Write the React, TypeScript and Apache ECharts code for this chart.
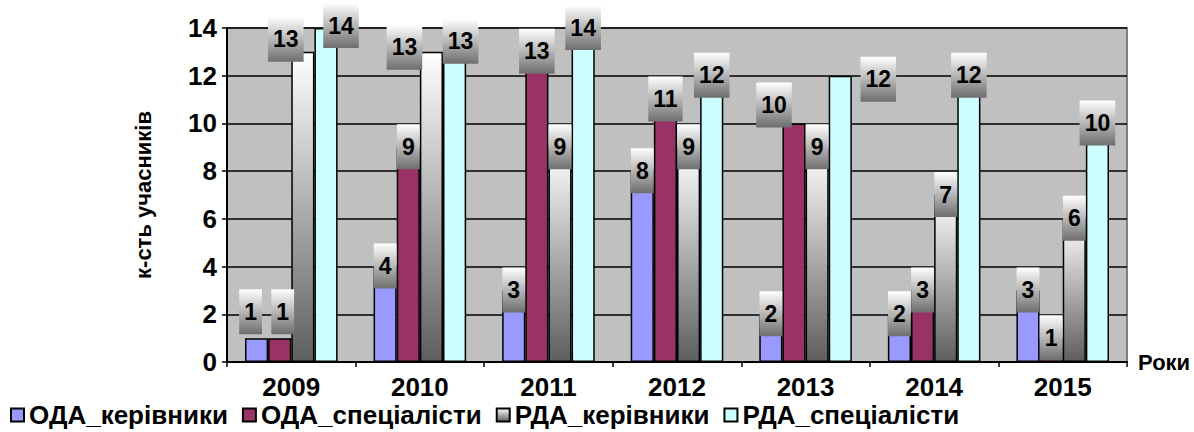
import React, { useEffect, useRef } from "react";
import * as echarts from "echarts";

const years = ["2009", "2010", "2011", "2012", "2013", "2014", "2015"];
const odaHeads = [1, 4, 3, 8, 2, 2, 3];
const odaSpecs = [1, 9, 13, 11, 10, 3, 1];
const rdaHeads = [13, 13, 9, 9, 9, 7, 6];
const rdaSpecs = [14, 13, 14, 12, 12, 12, 10];
const seriesNames = ["ОДА_керівники", "ОДА_спеціалісти", "РДА_керівники", "РДА_спеціалісти"];
const yMin = 0;
const yMax = 14;
const yStep = 2;

// label nudges (dx, dy) keyed "series-category", copying the hand-placed labels
const labelNudges: Record<string, [number, number]> = {
  "0-0": [-6, -26],
  "1-0": [3, -26],
  "2-0": [-17, -12],
  "3-0": [15, -2],
  "2-1": [-27, -4],
  "3-1": [6, -10],
  "1-4": [-20, -18],
  "3-4": [38, 4],
};

const FONT = "'Liberation Sans', Arial, sans-serif";

export default function App() {
  const ref = useRef<HTMLDivElement>(null);

  useEffect(() => {
    if (!ref.current) return;
    const chart = echarts.init(ref.current, undefined, { renderer: "svg" });

    const grad = (c0: string, c1: string) =>
      new echarts.graphic.LinearGradient(0, 0, 0, 1, [
        { offset: 0, color: c0 },
        { offset: 1, color: c1 },
      ]);

    const colors: any[] = ["#9999FF", "#993366", grad("#ffffff", "#5e5e5e"), "#CCFFFF"];
    const values = [odaHeads, odaSpecs, rdaHeads, rdaSpecs];

    const series = values.map((vals, s) => ({
      name: seriesNames[s],
      type: "bar",
      barGap: "0%",
      barCategoryGap: "28%",
      itemStyle: { color: colors[s], borderColor: "#000", borderWidth: 1.5 },
      label: {
        show: true,
        position: "top",
        distance: -22,
        fontFamily: FONT,
        fontWeight: "bold",
        fontSize: 23,
        color: "#000",
        lineHeight: 23,
        padding: [11, 5, 11, 5],
        backgroundColor: grad("#ffffff", "#6e6e6e"),
      },
      data: vals.map((v, i) => {
        const n = labelNudges[`${s}-${i}`];
        return n ? { value: v, label: { offset: n } } : v;
      }),
    }));

    chart.setOption({
      animation: false,
      backgroundColor: "#ffffff",
      grid: {
        left: 227,
        right: 67,
        top: 28,
        bottom: 70,
        show: true,
        backgroundColor: "#C0C0C0",
        borderColor: "#808080",
        borderWidth: 2,
      },
      legend: {
        left: 10,
        top: 401,
        padding: 0,
        icon: "rect",
        itemWidth: 13,
        itemHeight: 13,
        itemGap: 14,
        textStyle: {
          fontFamily: FONT,
          fontWeight: "bold",
          fontSize: 26,
          lineHeight: 28,
          color: "#000",
        },
      },
      xAxis: {
        type: "category",
        data: years,
        name: "Роки",
        nameLocation: "end",
        nameGap: 11,
        nameTextStyle: {
          fontFamily: FONT,
          fontWeight: "bold",
          fontSize: 22,
          color: "#000",
          verticalAlign: "middle",
          padding: [50, 0, 0, 0],
        },
        axisLine: { show: true, lineStyle: { color: "#000", width: 2 } },
        axisTick: { show: true, length: 5, lineStyle: { color: "#000", width: 1.5 } },
        axisLabel: {
          fontFamily: FONT,
          fontWeight: "bold",
          fontSize: 26,
          lineHeight: 26,
          color: "#000",
          margin: 12,
        },
      },
      yAxis: {
        type: "value",
        min: yMin,
        max: yMax,
        interval: yStep,
        name: "к-сть учасників",
        nameLocation: "middle",
        nameGap: 73,
        nameRotate: 90,
        nameTextStyle: { fontFamily: FONT, fontWeight: "bold", fontSize: 22, color: "#000" },
        axisLine: { show: true, lineStyle: { color: "#000", width: 2 } },
        axisTick: { show: true, length: 5, lineStyle: { color: "#000", width: 1.5 } },
        axisLabel: { fontFamily: FONT, fontWeight: "bold", fontSize: 26, color: "#000", margin: 10 },
        splitLine: { show: true, lineStyle: { color: "#000", width: 1.5 } },
      },
      series,
    });

    return () => chart.dispose();
  }, []);

  return (
    <div
      ref={ref}
      style={{ position: "fixed", left: 0, top: 0, width: 1194, height: 432 }}
    />
  );
}
